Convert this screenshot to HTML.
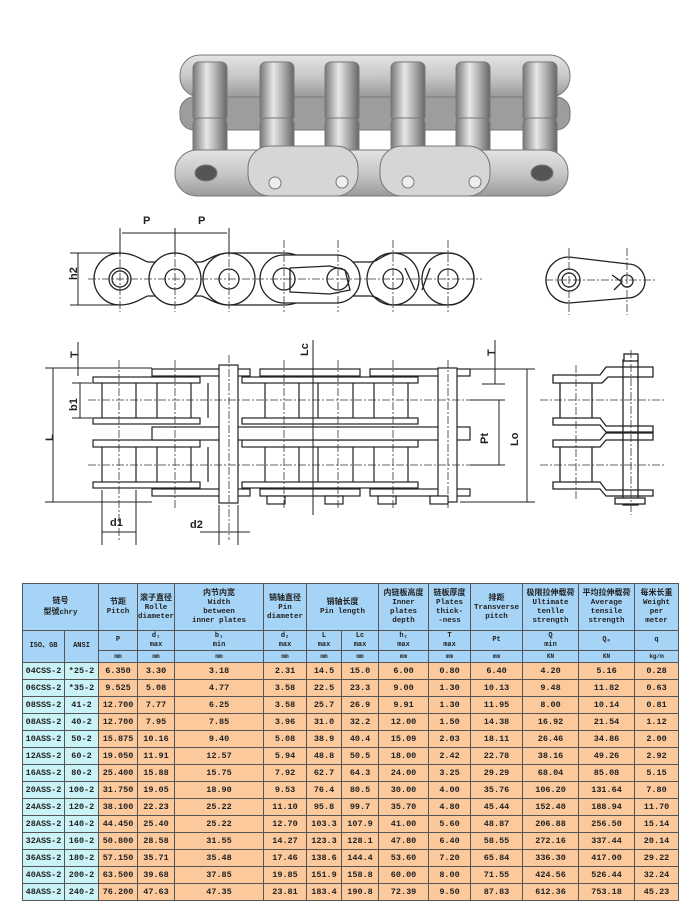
<!DOCTYPE html>
<html><head><meta charset="utf-8"><style>
body{margin:0;width:700px;height:916px;background:#fff;position:relative;overflow:hidden;font-family:"Liberation Mono","Noto Sans CJK SC",monospace}
svg{position:absolute;left:0;top:0}
table{position:absolute;left:22px;top:583px;border-collapse:collapse;table-layout:fixed;width:656px}
td{border:1px solid #555;text-align:center;padding:0;font-size:8.5px;font-weight:bold;color:#222;line-height:9px;overflow:hidden;white-space:nowrap}
tr.h td{background:#a6d4f6;height:46px;font-size:7.5px;line-height:9px;white-space:normal}
tr.s td{background:#a6d4f6;height:19px;font-size:7px}
tr.u td{background:#a6d4f6;height:11px;font-size:6px}
tr.d td{background:#fbc99c;height:16px}
tr.d td.c{background:#c9f3f7}
.cn{font-family:"Liberation Sans","Noto Sans CJK SC",sans-serif;font-size:8px}
</style></head><body>
<svg width="700" height="580" viewBox="0 0 700 580">
<defs>
<linearGradient id="cyl" x1="0" x2="1" y1="0" y2="0"><stop offset="0" stop-color="#777"/><stop offset=".4" stop-color="#e8e8e8"/><stop offset=".7" stop-color="#aaa"/><stop offset="1" stop-color="#666"/></linearGradient>
<linearGradient id="pl" x1="0" x2="0" y1="0" y2="1"><stop offset="0" stop-color="#e4e4e4"/><stop offset=".5" stop-color="#c8c8c8"/><stop offset="1" stop-color="#9a9a9a"/></linearGradient>
</defs>
<!-- photo -->
<g stroke="#777" stroke-width="1">
<rect x="180" y="55" width="390" height="42" rx="20" fill="url(#pl)"/>
<rect x="180" y="97" width="390" height="33" rx="14" fill="#9d9d9d"/>
<g fill="url(#cyl)">
<rect x="193" y="62" width="34" height="60" rx="6"/><rect x="260" y="62" width="34" height="60" rx="6"/><rect x="325" y="62" width="34" height="60" rx="6"/><rect x="391" y="62" width="34" height="60" rx="6"/><rect x="456" y="62" width="34" height="60" rx="6"/><rect x="523" y="62" width="34" height="60" rx="6"/>
<rect x="193" y="118" width="34" height="45" rx="6"/><rect x="260" y="118" width="34" height="45" rx="6"/><rect x="325" y="118" width="34" height="45" rx="6"/><rect x="391" y="118" width="34" height="45" rx="6"/><rect x="456" y="118" width="34" height="45" rx="6"/><rect x="523" y="118" width="34" height="45" rx="6"/>
</g>
<rect x="175" y="150" width="393" height="46" rx="22" fill="url(#pl)"/>
<rect x="248" y="146" width="110" height="50" rx="22" fill="#d6d6d6"/>
<rect x="380" y="146" width="110" height="50" rx="22" fill="#d6d6d6"/>
<ellipse cx="206" cy="173" rx="11" ry="8" fill="#555"/><ellipse cx="542" cy="173" rx="11" ry="8" fill="#555"/>
<circle cx="275" cy="183" r="6" fill="#eee"/><circle cx="342" cy="182" r="6" fill="#eee"/><circle cx="408" cy="182" r="6" fill="#eee"/><circle cx="475" cy="182" r="6" fill="#eee"/>
</g>
<!-- side view -->
<g fill="none" stroke="#222" stroke-width="1.3">
<path d="M120 253 C135 253 145 262 148 262 L 201 262 C 205 262 215 253 229 253 L284 253 C300 253 305 262 315 262 L 370 262 C 378 262 385 253 393 253 L448 253 A26 26 0 0 1 448 305 L393 305 C385 305 378 296 370 296 L315 296 C305 296 300 305 284 305 L229 305 C215 305 205 296 201 296 L148 296 C145 296 135 305 120 305 A26 26 0 0 1 120 253Z" fill="#fff"/>
<circle cx="175" cy="279" r="26" fill="#fff"/><circle cx="229" cy="279" r="26" fill="#fff"/>
<rect x="260" y="255" width="100" height="48" rx="24" fill="#fff"/>
<circle cx="393" cy="279" r="26"/><circle cx="448" cy="279" r="26"/>
<circle cx="120" cy="279" r="11"/><circle cx="120" cy="279" r="8"/>
<circle cx="175" cy="279" r="10"/><circle cx="229" cy="279" r="10"/><circle cx="284" cy="279" r="11"/><circle cx="338" cy="279" r="11"/>
<path d="M290 268 L330 266 L345 270 L350 290 L330 294 L290 292Z"/>
<circle cx="393" cy="279" r="10"/><circle cx="448" cy="279" r="10"/>
<path d="M405 268 L415 290 M430 268 L422 290"/>
</g>
<g stroke="#333" stroke-width=".8" stroke-dasharray="8 2 2 2" fill="none">
<line x1="88" y1="279" x2="482" y2="279"/>
<path d="M120 245V312M175 245V312M229 245V312M284 240V312M338 240V312M393 240V312M448 240V312"/>
</g>
<g stroke="#222" stroke-width="1" fill="none">
<path d="M120 228V255M175 228V255M229 228V255M122 233H227M70 253H120M70 305H120M78 253V305"/>
</g>
<g font-family="Liberation Sans" font-size="11" font-weight="bold" fill="#222">
<text x="143" y="224">P</text><text x="198" y="224">P</text>
<text x="72" y="285" transform="rotate(-90 72 280)">h2</text>
</g>
<!-- end view top -->
<g fill="none" stroke="#222" stroke-width="1.3">
<path d="M569 257 L628 264 A16 16 0 0 1 628 298 L569 303 A23 23 0 0 1 569 257Z"/>
<circle cx="569" cy="280" r="11"/><circle cx="569" cy="280" r="7"/><circle cx="627" cy="281" r="6"/>
<path d="M612 275 L622 282 L614 290"/>
</g>
<g stroke="#333" stroke-width=".8" stroke-dasharray="8 2 2 2"><path d="M545 280H655M569 248V315M627 248V315"/></g>
<!-- plan view -->
<g stroke="#222" stroke-width="1.2" fill="#fff">
<rect x="93" y="377" width="107" height="6"/><rect x="93" y="418" width="107" height="6"/><rect x="93" y="440" width="107" height="7"/><rect x="93" y="482" width="107" height="6"/>
<rect x="242" y="377" width="176" height="6"/><rect x="242" y="418" width="176" height="6"/><rect x="242" y="440" width="176" height="7"/><rect x="242" y="482" width="176" height="6"/>
<rect x="152" y="369" width="98" height="7"/><rect x="260" y="369" width="100" height="7"/><rect x="370" y="369" width="100" height="7"/>
<rect x="152" y="489" width="98" height="7"/><rect x="260" y="489" width="100" height="7"/><rect x="370" y="489" width="100" height="7"/>
<rect x="152" y="427" width="318" height="13"/>
<rect x="219" y="365" width="19" height="138"/>
<rect x="438" y="368" width="19" height="134"/>
<rect x="267" y="496" width="18" height="8"/><rect x="325" y="496" width="18" height="8"/><rect x="378" y="496" width="18" height="8"/><rect x="430" y="496" width="18" height="8"/>
</g>
<g stroke="#222" stroke-width="1.2">
<path d="M102 383V418M136 383V418M157 383V418M191 383V418M208 383V418M265 383V418M299 383V418M318 383V418M353 383V418M374 383V418M408 383V418"/>
<path d="M102 447V482M136 447V482M157 447V482M191 447V482M208 447V482M265 447V482M299 447V482M318 447V482M353 447V482M374 447V482M408 447V482"/>
</g>
<g stroke="#333" stroke-width=".8" stroke-dasharray="8 2 2 2" fill="none">
<path d="M88 400H480M88 465H480M119 360V540M175 360V510M229 355V540M284 360V510M338 360V510M393 360V510M448 360V510"/>
</g>
<g stroke="#222" stroke-width="1" fill="none">
<path d="M45 368H152M45 502H152M53 368V502M80 383V418M72 383H92M72 418H92M78 342V376M460 369H535M460 502H535M527 369V502M470 400H505M470 465H505M499 400V465M495 340V384M482 384H505M313 340V515M102 490V545M136 490V545M102 532H136M219 505V545M238 505V545M200 532H250"/>
</g>
<g font-family="Liberation Sans" font-size="11" font-weight="bold" fill="#222">
<text x="70" y="358" transform="rotate(-90 74 354)">T</text>
<text x="487" y="356" transform="rotate(-90 491 352)">T</text>
<text x="300" y="356" transform="rotate(-90 304 352)">Lc</text>
<text x="66" y="410" transform="rotate(-90 72 405)">b1</text>
<text x="44" y="442" transform="rotate(-90 48 437)">L</text>
<text x="478" y="442" transform="rotate(-90 484 438)">Pt</text>
<text x="508" y="444" transform="rotate(-90 514 440)">Lo</text>
<text x="110" y="526">d1</text><text x="190" y="528">d2</text>
</g>
<!-- end view bottom -->
<g stroke="#222" stroke-width="1.3" fill="#fff">
<path d="M553 375H600L606 367H653V377H608L602 383H553Z"/>
<path d="M553 418H600L606 426H653V432H606L600 425H553Z"/>
<path d="M553 440H600L606 433H653V440H606L600 447H553Z"/>
<path d="M553 482H600L606 490H653V496H606L600 489H553Z"/>
<rect x="623" y="360" width="15" height="145" fill="none"/>
<path d="M560 383V418M592 383V418M560 447V482M592 447V482" fill="none"/>
<rect x="624" y="354" width="14" height="7"/><rect x="615" y="498" width="30" height="6"/>
</g>
<g stroke="#333" stroke-width=".8" stroke-dasharray="8 2 2 2" fill="none"><path d="M540 400H665M540 465H665M576 365V500M631 350V515"/></g>
</svg>
<table>
<colgroup><col style="width:42px"><col style="width:34px"><col style="width:39px"><col style="width:37px"><col style="width:89px"><col style="width:43px"><col style="width:35px"><col style="width:37px"><col style="width:50px"><col style="width:42px"><col style="width:52px"><col style="width:56px"><col style="width:56px"><col style="width:44px"></colgroup>
<tr class="h"><td colspan="2"><span class="cn">链号<br>型號</span>chry</td><td><span class="cn">节距</span><br>Pitch</td><td><span class="cn">滚子直径</span><br>Rolle<br>diameter</td><td><span class="cn">内节内宽</span><br>Width<br>between<br>inner plates</td><td><span class="cn">销轴直径</span><br>Pin<br>diameter</td><td colspan="2"><span class="cn">销轴长度</span><br>Pin length</td><td><span class="cn">内链板高度</span><br>Inner<br>plates<br>depth</td><td><span class="cn">链板厚度</span><br>Plates<br>thick-<br>-ness</td><td><span class="cn">排距</span><br>Transverse<br>pitch</td><td><span class="cn">极限拉伸载荷</span><br>Ultimate<br>tenlle<br>strength</td><td><span class="cn">平均拉伸载荷</span><br>Average<br>tensile<br>strength</td><td><span class="cn">每米长重</span><br>Weight<br>per<br>meter</td></tr>
<tr class="s"><td rowspan="2">ISO、GB</td><td rowspan="2">ANSI</td><td>P</td><td>d₁<br>max</td><td>b₁<br>min</td><td>d₂<br>max</td><td>L<br>max</td><td>Lc<br>max</td><td>h₂<br>max</td><td>T<br>max</td><td>Pt</td><td>Q<br>min</td><td>Q₀</td><td>q</td></tr>
<tr class="u"><td>mm</td><td>mm</td><td>mm</td><td>mm</td><td>mm</td><td>mm</td><td>mm</td><td>mm</td><td>mm</td><td>KN</td><td>KN</td><td>kg/m</td></tr>
<tr class="d"><td class="c">04CSS-2</td><td class="c">*25-2</td><td>6.350</td><td>3.30</td><td>3.18</td><td>2.31</td><td>14.5</td><td>15.0</td><td>6.00</td><td>0.80</td><td>6.40</td><td>4.20</td><td>5.16</td><td>0.28</td></tr>
<tr class="d"><td class="c">06CSS-2</td><td class="c">*35-2</td><td>9.525</td><td>5.08</td><td>4.77</td><td>3.58</td><td>22.5</td><td>23.3</td><td>9.00</td><td>1.30</td><td>10.13</td><td>9.48</td><td>11.82</td><td>0.63</td></tr>
<tr class="d"><td class="c">08SSS-2</td><td class="c">41-2</td><td>12.700</td><td>7.77</td><td>6.25</td><td>3.58</td><td>25.7</td><td>26.9</td><td>9.91</td><td>1.30</td><td>11.95</td><td>8.00</td><td>10.14</td><td>0.81</td></tr>
<tr class="d"><td class="c">08ASS-2</td><td class="c">40-2</td><td>12.700</td><td>7.95</td><td>7.85</td><td>3.96</td><td>31.0</td><td>32.2</td><td>12.00</td><td>1.50</td><td>14.38</td><td>16.92</td><td>21.54</td><td>1.12</td></tr>
<tr class="d"><td class="c">10ASS-2</td><td class="c">50-2</td><td>15.875</td><td>10.16</td><td>9.40</td><td>5.08</td><td>38.9</td><td>40.4</td><td>15.09</td><td>2.03</td><td>18.11</td><td>26.46</td><td>34.86</td><td>2.00</td></tr>
<tr class="d"><td class="c">12ASS-2</td><td class="c">60-2</td><td>19.050</td><td>11.91</td><td>12.57</td><td>5.94</td><td>48.8</td><td>50.5</td><td>18.00</td><td>2.42</td><td>22.78</td><td>38.16</td><td>49.26</td><td>2.92</td></tr>
<tr class="d"><td class="c">16ASS-2</td><td class="c">80-2</td><td>25.400</td><td>15.88</td><td>15.75</td><td>7.92</td><td>62.7</td><td>64.3</td><td>24.00</td><td>3.25</td><td>29.29</td><td>68.04</td><td>85.08</td><td>5.15</td></tr>
<tr class="d"><td class="c">20ASS-2</td><td class="c">100-2</td><td>31.750</td><td>19.05</td><td>18.90</td><td>9.53</td><td>76.4</td><td>80.5</td><td>30.00</td><td>4.00</td><td>35.76</td><td>106.20</td><td>131.64</td><td>7.80</td></tr>
<tr class="d"><td class="c">24ASS-2</td><td class="c">120-2</td><td>38.100</td><td>22.23</td><td>25.22</td><td>11.10</td><td>95.8</td><td>99.7</td><td>35.70</td><td>4.80</td><td>45.44</td><td>152.40</td><td>188.94</td><td>11.70</td></tr>
<tr class="d"><td class="c">28ASS-2</td><td class="c">140-2</td><td>44.450</td><td>25.40</td><td>25.22</td><td>12.70</td><td>103.3</td><td>107.9</td><td>41.00</td><td>5.60</td><td>48.87</td><td>206.88</td><td>256.50</td><td>15.14</td></tr>
<tr class="d"><td class="c">32ASS-2</td><td class="c">160-2</td><td>50.800</td><td>28.58</td><td>31.55</td><td>14.27</td><td>123.3</td><td>128.1</td><td>47.80</td><td>6.40</td><td>58.55</td><td>272.16</td><td>337.44</td><td>20.14</td></tr>
<tr class="d"><td class="c">36ASS-2</td><td class="c">180-2</td><td>57.150</td><td>35.71</td><td>35.48</td><td>17.46</td><td>138.6</td><td>144.4</td><td>53.60</td><td>7.20</td><td>65.84</td><td>336.30</td><td>417.00</td><td>29.22</td></tr>
<tr class="d"><td class="c">40ASS-2</td><td class="c">200-2</td><td>63.500</td><td>39.68</td><td>37.85</td><td>19.85</td><td>151.9</td><td>158.8</td><td>60.00</td><td>8.00</td><td>71.55</td><td>424.56</td><td>526.44</td><td>32.24</td></tr>
<tr class="d"><td class="c">48ASS-2</td><td class="c">240-2</td><td>76.200</td><td>47.63</td><td>47.35</td><td>23.81</td><td>183.4</td><td>190.8</td><td>72.39</td><td>9.50</td><td>87.83</td><td>612.36</td><td>753.18</td><td>45.23</td></tr>
</table>
</body></html>
